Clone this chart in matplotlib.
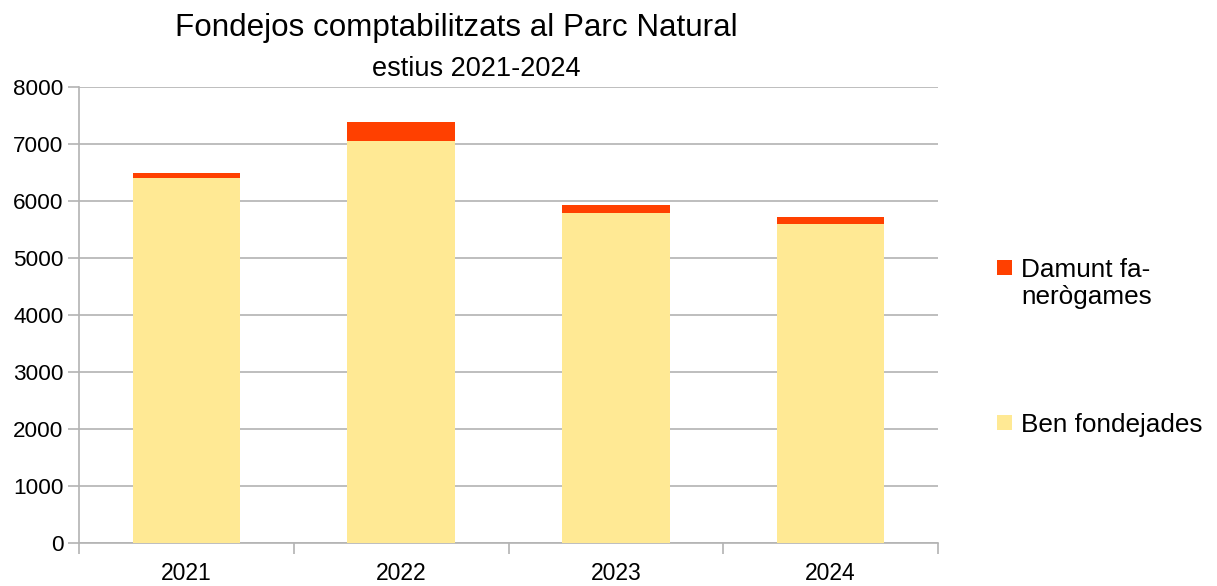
import matplotlib
matplotlib.use("Agg")
import matplotlib.pyplot as plt
from matplotlib.patches import Rectangle
import numpy as np

plt.rcParams['font.family'] = ['Liberation Sans', 'DejaVu Sans']

years = ['2021', '2022', '2023', '2024']
ben_fondejades = [6410, 7055, 5795, 5600]
damunt_fanerogames = [90, 335, 130, 125]

c_ben = '#FFE994'
c_dam = '#FF4000'
grid_c = '#b3b3b3'

W, H = 1217, 586
fig = plt.figure(figsize=(W / 100, H / 100), dpi=100)
ax = fig.add_axes([79 / W, 43 / H, (938 - 79) / W, (543 - 87) / H])

x = np.arange(len(years))
ax.bar(x, ben_fondejades, width=0.5, color=c_ben, zorder=3)
ax.bar(x, damunt_fanerogames, width=0.5, bottom=ben_fondejades, color=c_dam, zorder=3)

ax.set_xlim(-0.5, len(years) - 0.5)
ax.set_ylim(0, 8000)
ax.set_yticks(np.arange(0, 8001, 1000))
ax.yaxis.grid(True, color=grid_c, linewidth=1.2, zorder=0)

ax.set_xticks(x)
ax.set_xticklabels(years, fontsize=16.5)
ax.set_xticks(np.arange(-0.5, len(years)), minor=True)
ax.tick_params(axis='x', which='major', length=0, pad=14)
ax.tick_params(axis='x', which='minor', length=8, color=grid_c, width=1.2)
ax.tick_params(axis='y', length=8, color=grid_c, width=1.2, labelsize=16.2, pad=3)

for s in ['top', 'right']:
    ax.spines[s].set_visible(False)
for s in ['left', 'bottom']:
    ax.spines[s].set_color(grid_c)
    ax.spines[s].set_linewidth(1.2)

fig.text(456 / W, 1 - 36 / H, 'Fondejos comptabilitzats al Parc Natural',
         ha='center', va='baseline', fontsize=22.6, color='black')
fig.text(476 / W, 1 - 76 / H, 'estius 2021-2024',
         ha='center', va='baseline', fontsize=19.5, color='black')

# Legend drawn in figure pixel coordinates
def legend_entry(square_top, baselines, color, lines):
    fig.patches.append(Rectangle((997 / W, 1 - (square_top + 15) / H), 15 / W, 15 / H,
                                 transform=fig.transFigure, facecolor=color,
                                 edgecolor='none'))
    for b, line in zip(baselines, lines):
        fig.text(1021 / W, 1 - b / H, line, ha='left', va='baseline', fontsize=18.8)

legend_entry(260, [277, 304], c_dam, ['Damunt fa-', 'nerògames'])
legend_entry(415, [432], c_ben, ['Ben fondejades'])

fig.savefig('out.png', dpi=100)
